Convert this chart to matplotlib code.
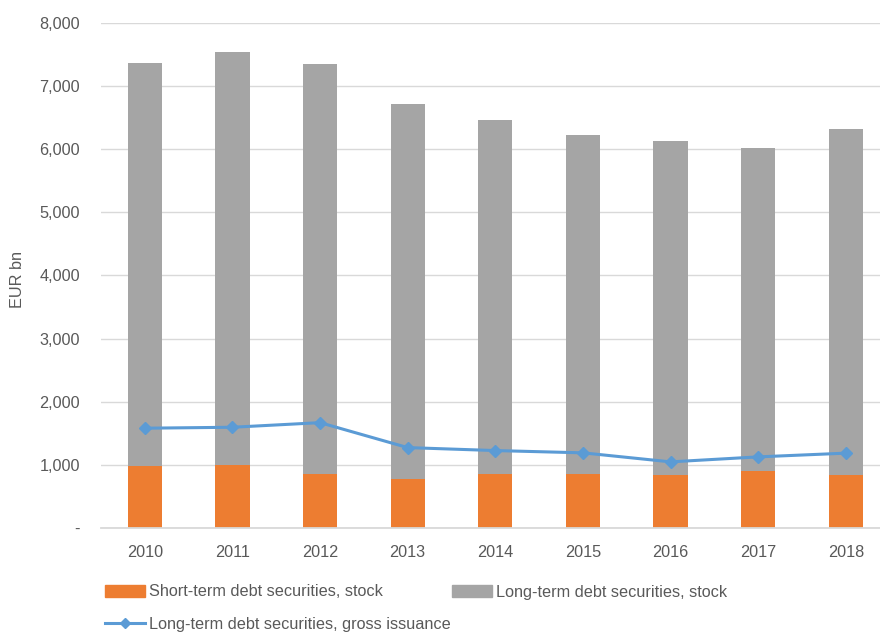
import matplotlib
matplotlib.use("Agg")
import matplotlib.pyplot as plt
from matplotlib.ticker import FuncFormatter
from matplotlib.lines import Line2D
from matplotlib.patches import Patch
import numpy as np

years = ["2010", "2011", "2012", "2013", "2014", "2015", "2016", "2017", "2018"]
short_term = [980, 1000, 860, 770, 862, 862, 842, 895, 842]
total_stock = [7355, 7540, 7350, 6710, 6458, 6220, 6126, 6016, 6316]
long_term = [t - s for t, s in zip(total_stock, short_term)]
gross_issuance = [1580, 1595, 1668, 1273, 1226, 1190, 1047, 1126, 1185]

plt.rcParams['font.family'] = ['Liberation Sans', 'DejaVu Sans']

c_orange = '#ED7D31'
c_gray = '#A5A5A5'
c_blue = '#5B9BD5'
c_text = '#595959'
c_grid = '#D9D9D9'
fs = 11.7

fig = plt.figure(figsize=(8.8, 6.32), dpi=100)
ax = fig.add_axes([101/880, 1 - 528/632, (889.6 - 101)/880, (528 - 22.7)/632])

x = np.arange(len(years))
w = 0.39
ax.bar(x, short_term, w, color=c_orange, zorder=2)
ax.bar(x, long_term, w, bottom=short_term, color=c_gray, zorder=2)
ax.plot(x, gross_issuance, color=c_blue, lw=2.2, marker='D', ms=6.5, zorder=3)

ax.set_xlim(-0.5, len(years) - 0.5)
ax.set_ylim(0, 8000)
ax.set_yticks(np.arange(0, 8001, 1000))
ax.yaxis.set_major_formatter(FuncFormatter(lambda v, p: '-' if v == 0 else f'{v:,.0f}'))
ax.set_xticks(x)
ax.set_xticklabels(years)
ax.grid(axis='y', color=c_grid, lw=1, zorder=0)
for s in ['top', 'right', 'left']:
    ax.spines[s].set_visible(False)
ax.spines['bottom'].set_color(c_grid)
ax.spines['bottom'].set_linewidth(1.3)
ax.tick_params(axis='both', length=0, labelsize=fs, colors=c_text)
ax.tick_params(axis='y', pad=15)
ax.tick_params(axis='x', pad=12)

fig.text(18/880, 1 - 280/632, 'EUR bn', rotation=90, ha='center', va='center',
         fontsize=fs, color=c_text)

common = dict(loc='center left', frameon=False, fontsize=fs, labelcolor=c_text,
              handlelength=2.45, handletextpad=0.25, handleheight=0.7,
              borderpad=0, borderaxespad=0)
leg1 = fig.legend([Patch(color=c_orange)], ['Short-term debt securities, stock'],
                  bbox_to_anchor=(105/880, 1 - 592/632), **common)
leg2 = fig.legend([Patch(color=c_gray)], ['Long-term debt securities, stock'],
                  bbox_to_anchor=(452/880, 1 - 592/632), **common)
leg3 = fig.legend([Line2D([0], [0], color=c_blue, lw=2.2, marker='D', ms=5.5)],
                  ['Long-term debt securities, gross issuance'],
                  bbox_to_anchor=(105/880, 1 - 624/632), **common)

fig.savefig('out.png', dpi=100)
